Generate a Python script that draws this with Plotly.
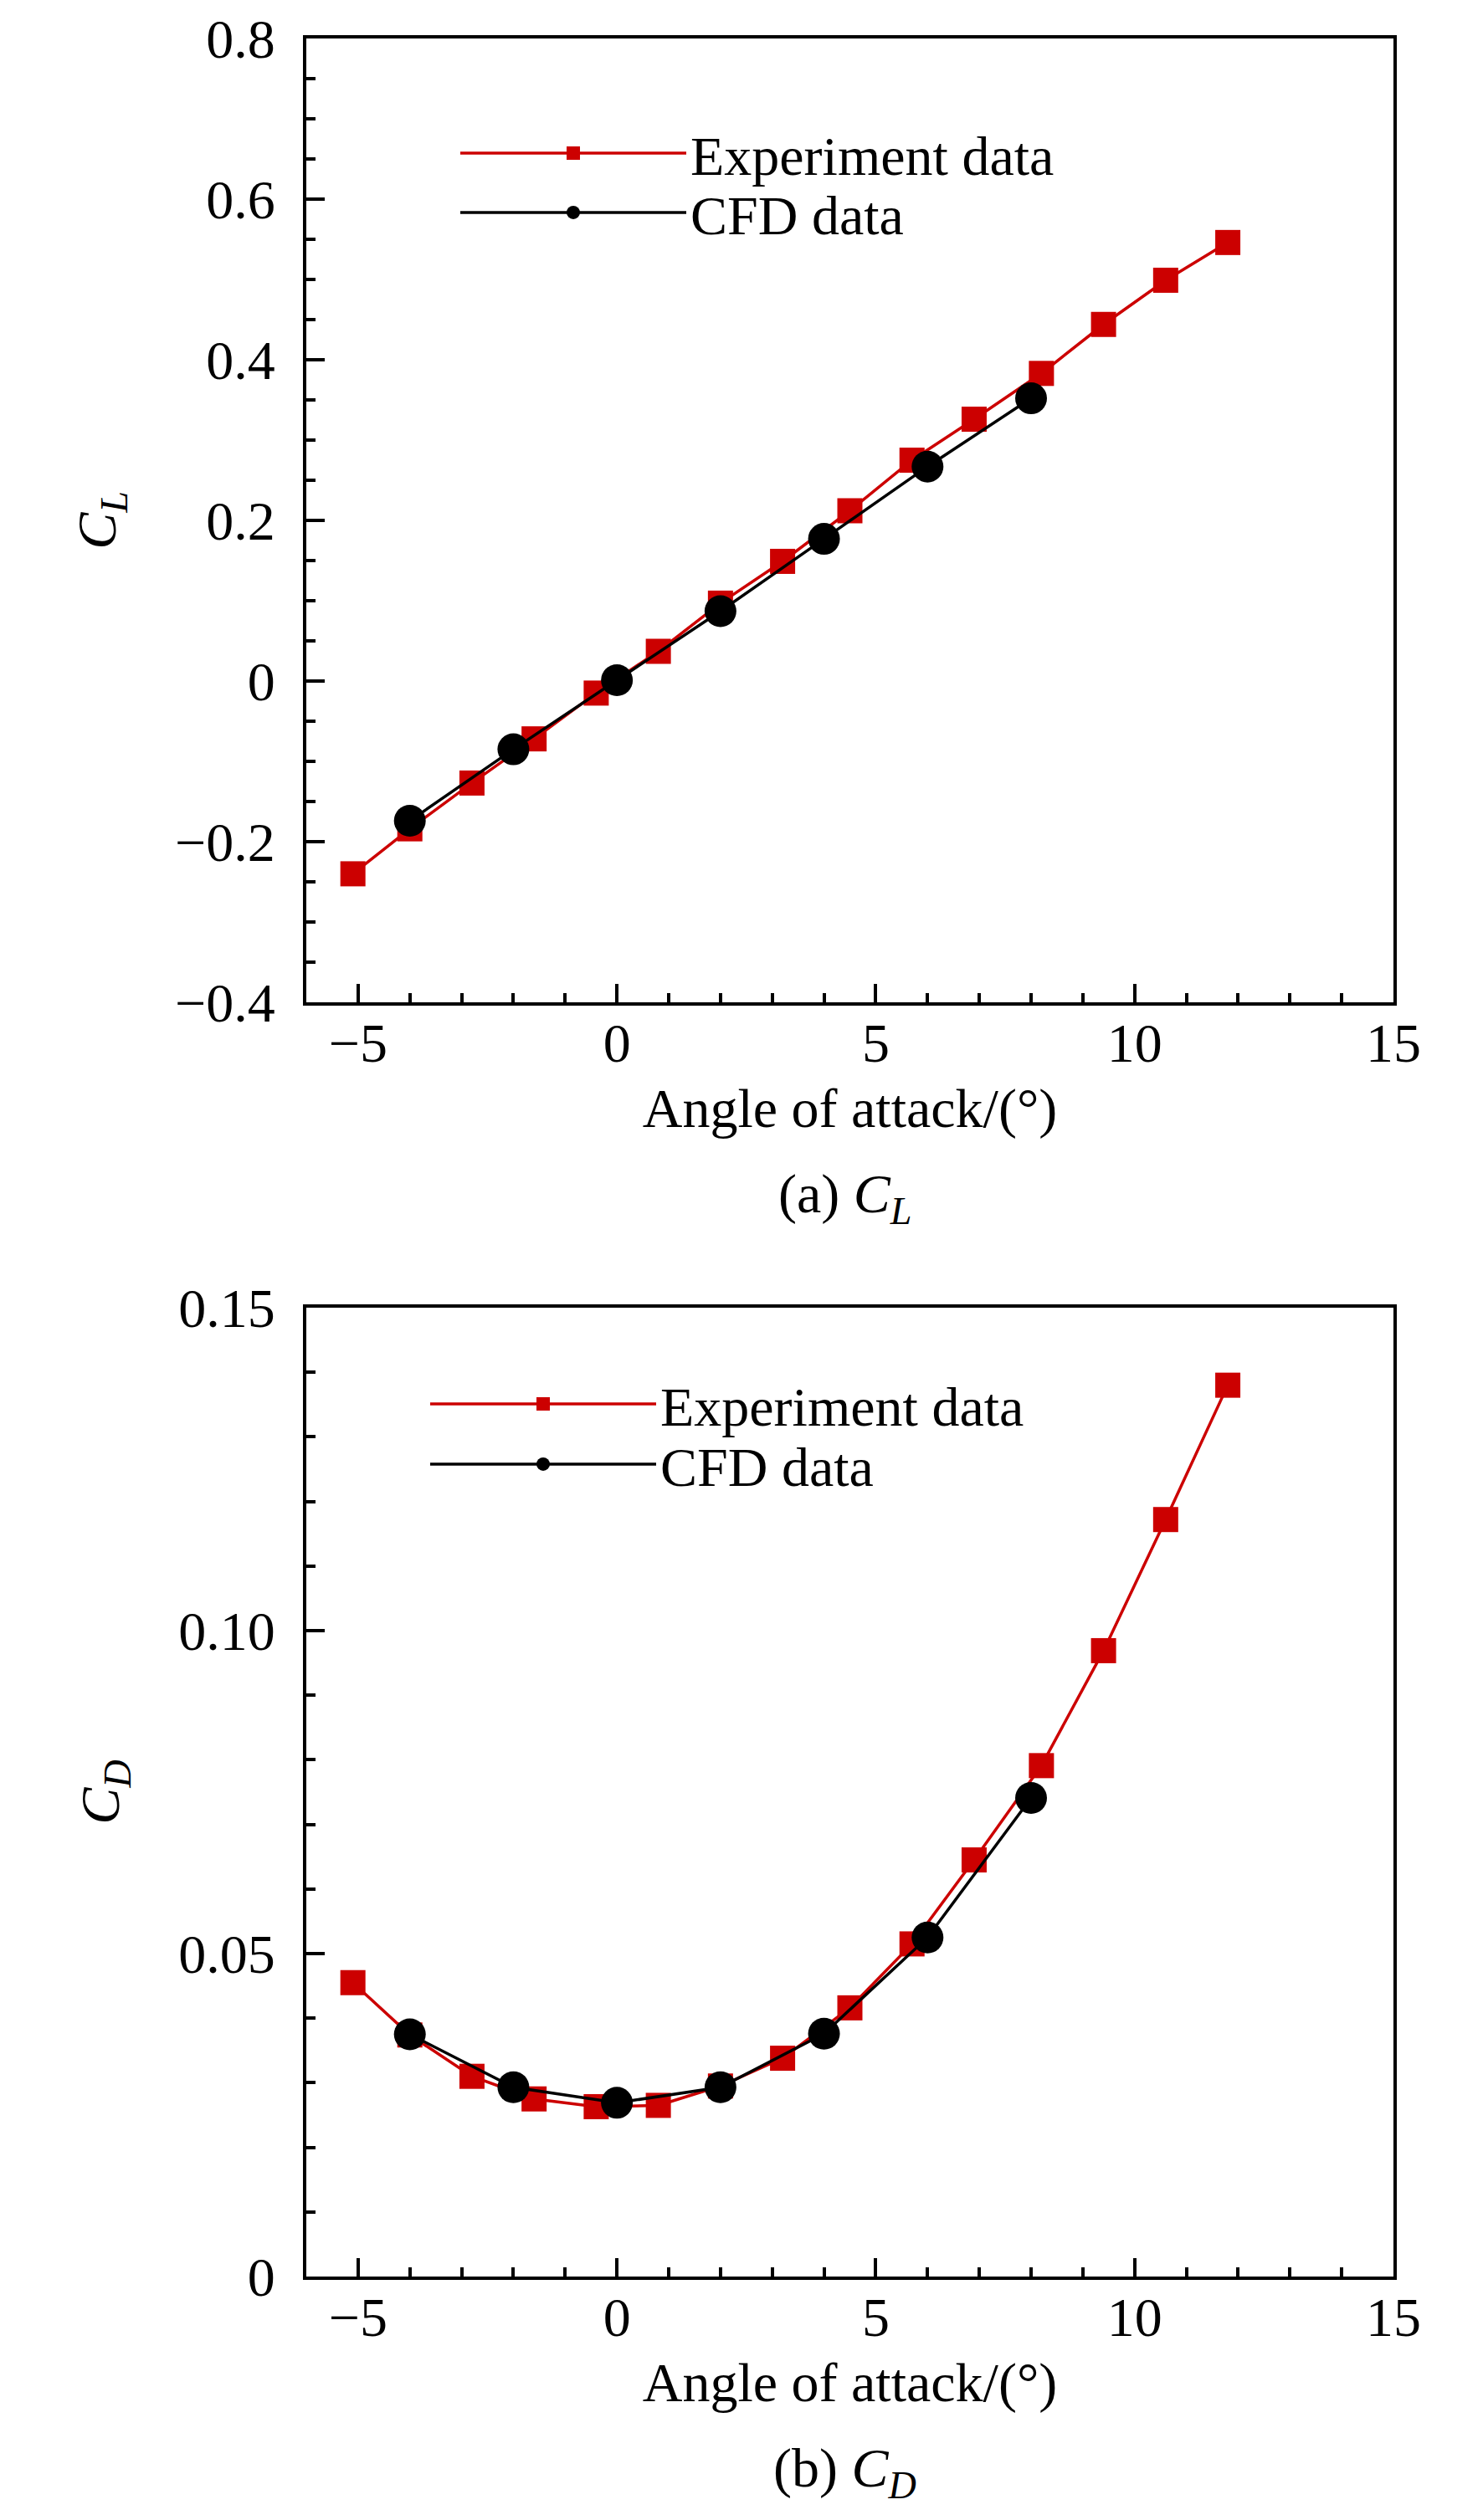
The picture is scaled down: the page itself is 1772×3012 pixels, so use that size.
import plotly.graph_objects as go

# angle of attack (deg)
exp_aoa = [-5.1, -4.0, -2.8, -1.6, -0.4, 0.8, 2.0, 3.2, 4.5, 5.7, 6.9, 8.2, 9.4, 10.6, 11.8]
cfd_aoa = [-4, -2, 0, 2, 4, 6, 8]

# lift coefficient
exp_cl = [-0.240, -0.184, -0.127, -0.072, -0.015, 0.037, 0.097, 0.149, 0.212, 0.275,
          0.326, 0.383, 0.444, 0.499, 0.546]
cfd_cl = [-0.174, -0.085, 0.001, 0.087, 0.177, 0.267, 0.352]

# drag coefficient
exp_cd = [0.0455, 0.0374, 0.0310, 0.0275, 0.0263, 0.0265, 0.0295, 0.0338, 0.0416, 0.0515,
          0.0645, 0.0791, 0.0969, 0.1172, 0.1380]
cfd_cd = [0.0375, 0.0293, 0.0269, 0.0293, 0.0376, 0.0525, 0.0741]

x_ticks = [-5, 0, 5, 10, 15]
x_tick_text = ['\u22125', '0', '5', '10', '15']
cl_ticks = [-0.4, -0.2, 0, 0.2, 0.4, 0.6, 0.8]
cl_tick_text = ['\u22120.4', '\u22120.2', '0', '0.2', '0.4', '0.6', '0.8']
cd_ticks = [0, 0.05, 0.10, 0.15]
cd_tick_text = ['0', '0.05', '0.10', '0.15']

RED = '#cc0000'
FONT = 'Liberation Serif'
FS = 66

fig = go.Figure()

fig.add_trace(go.Scatter(x=exp_aoa, y=exp_cl, name='Experiment data', mode='lines+markers',
                         line=dict(color=RED, width=3.5),
                         marker=dict(symbol='square', size=30, color=RED),
                         xaxis='x', yaxis='y', legend='legend'))
fig.add_trace(go.Scatter(x=cfd_aoa, y=cfd_cl, name='CFD data', mode='lines+markers',
                         line=dict(color='black', width=3.5),
                         marker=dict(symbol='circle', size=38, color='black'),
                         xaxis='x', yaxis='y', legend='legend2'))
fig.add_trace(go.Scatter(x=exp_aoa, y=exp_cd, name='Experiment data', mode='lines+markers',
                         line=dict(color=RED, width=3.5),
                         marker=dict(symbol='square', size=30, color=RED),
                         xaxis='x2', yaxis='y2', legend='legend3'))
fig.add_trace(go.Scatter(x=cfd_aoa, y=cfd_cd, name='CFD data', mode='lines+markers',
                         line=dict(color='black', width=3.5),
                         marker=dict(symbol='circle', size=38, color='black'),
                         xaxis='x2', yaxis='y2', legend='legend4'))

axis_common = dict(showgrid=False, zeroline=False, showline=True, linecolor='black',
                   linewidth=4, mirror=True, ticks='inside', ticklen=22, tickwidth=4,
                   tickcolor='black', automargin=False,
                   tickfont=dict(family=FONT, size=FS, color='black'))

xdom = [358 / 1772, 1657 / 1772]
for xa, ya, dom, yt, ytt, ymin, yr, ytitle in [
        ('xaxis', 'yaxis', [1 - 1190 / 3012, 1 - 38 / 3012], cl_ticks, cl_tick_text, 0.05,
         [-0.4, 0.8], '<i>C</i><sub><i>L</i></sub>'),
        ('xaxis2', 'yaxis2', [1 - 2713 / 3012, 1 - 1555 / 3012], cd_ticks, cd_tick_text, 0.01,
         [0, 0.15], '<i>C</i><sub><i>D</i></sub>')]:
    anchor_y = 'y' if ya == 'yaxis' else 'y2'
    anchor_x = 'x' if xa == 'xaxis' else 'x2'
    fig.layout[xa] = dict(axis_common, domain=xdom, anchor=anchor_y, range=[-6, 15],
                          tickmode='array', tickvals=x_ticks, ticktext=x_tick_text,
                          ticklabelstandoff=-12,
                          minor=dict(dtick=1, ticks='inside', ticklen=11, tickwidth=4,
                                     tickcolor='black'),
                          title=dict(text='Angle of attack/(\u00b0)', standoff=20,
                                     font=dict(family=FONT, size=FS, color='black')))
    fig.layout[ya] = dict(axis_common, domain=dom, anchor=anchor_x, range=yr,
                          tickmode='array', tickvals=yt, ticktext=ytt,
                          ticklabelstandoff=20,
                          minor=dict(dtick=ymin, ticks='inside', ticklen=11, tickwidth=4,
                                     tickcolor='black'),
                          title=dict(text=ytitle, standoff=50,
                                     font=dict(family=FONT, size=FS, color='black')))

leg = dict(font=dict(family=FONT, size=FS, color='black'), bgcolor='rgba(0,0,0,0)',
           xanchor='left', yanchor='middle', itemwidth=270, borderwidth=0)
fig.update_layout(
    legend=dict(leg, x=537 / 1772, y=1 - 175 / 3012),
    legend2=dict(leg, x=537 / 1772, y=1 - 246 / 3012),
    legend3=dict(leg, x=501 / 1772, y=1 - 1670 / 3012),
    legend4=dict(leg, x=501 / 1772, y=1 - 1742 / 3012),
)

fig.add_annotation(text='(a) <i>C</i><sub><i>L</i></sub>', xref='paper', yref='paper',
                   x=0.565, y=1 - 1423 / 3012, showarrow=False, xanchor='center',
                   yanchor='middle', font=dict(family=FONT, size=FS, color='black'))
fig.add_annotation(text='(b) <i>C</i><sub><i>D</i></sub>', xref='paper', yref='paper',
                   x=0.565, y=1 - 2946 / 3012, showarrow=False, xanchor='center',
                   yanchor='middle', font=dict(family=FONT, size=FS, color='black'))

fig.update_layout(template='none', width=1772, height=3012,
                  margin=dict(l=0, r=0, t=0, b=0, autoexpand=False),
                  paper_bgcolor='white', plot_bgcolor='white', showlegend=True)

fig.write_html('out.html')
